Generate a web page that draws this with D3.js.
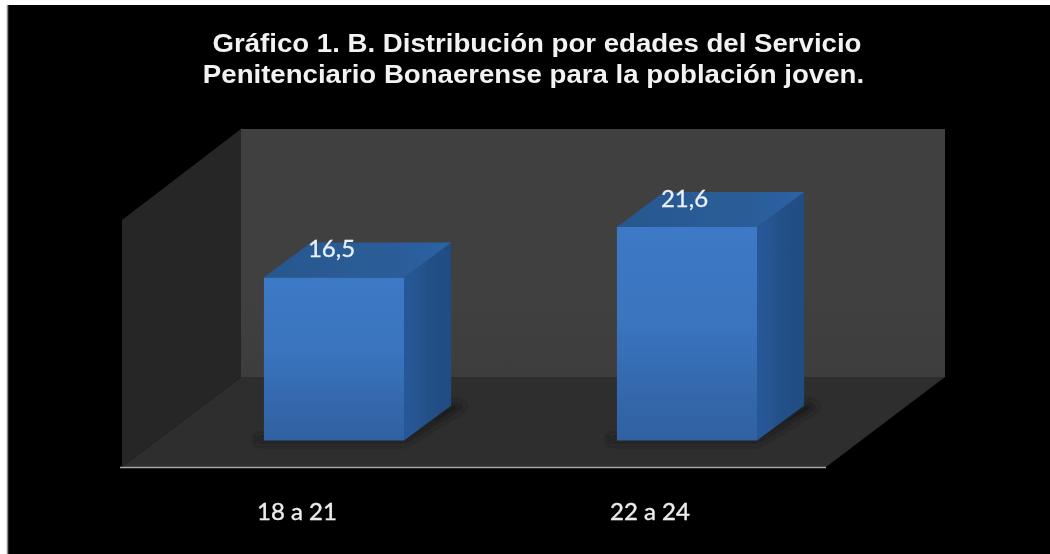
<!DOCTYPE html>
<html><head><meta charset="utf-8">
<script src="https://cdn.jsdelivr.net/npm/d3@7"></script>
<style>html,body{margin:0;padding:0;background:#fff}svg{display:block}</style></head>
<body><svg id="c" width="1050" height="554"></svg>
<script>
const categories = ["18 a 21", "22 a 24"];
const values = [16.5, 21.6];
const valueLabels = ["16,5", "21,6"];
const titleLines = ["Gráfico 1. B. Distribución por edades del Servicio", "Penitenciario Bonaerense para la población joven."];

const svg = d3.select("#c");
const defs = svg.append("defs");
function grad(id, dir, stops){
  const g = defs.append("linearGradient").attr("id", id)
    .attr("x1",0).attr("y1",0).attr("x2",dir==="h"?1:0).attr("y2",dir==="h"?0:1);
  stops.forEach(s=>g.append("stop").attr("offset",s[0]).attr("stop-color",s[1]));
}
grad("front","v",[[0,"#3c79c6"],[0.45,"#3a74bf"],[1,"#2f619f"]]);
grad("side","h",[[0,"#28599a"],[0.6,"#224f85"],[1,"#1f4d84"]]);
grad("topF","h",[[0,"#28588f"],[0.7,"#2a5c98"],[1,"#2c64a8"]]);
grad("wall","v",[[0,"#414141"],[1,"#3e3e3e"]]);
const blur = defs.append("filter").attr("id","soft").attr("x","-10%").attr("y","-10%").attr("width","120%").attr("height","120%");
blur.append("feGaussianBlur").attr("stdDeviation",0.5);
const sh = defs.append("filter").attr("id","shadow").attr("x","-20%").attr("y","-100%").attr("width","140%").attr("height","300%");
sh.append("feGaussianBlur").attr("stdDeviation",3.5);

// chart frame
svg.append("rect").attr("x",7).attr("y",5).attr("width",1043).attr("height",549).attr("fill","#000");
svg.append("line").attr("x1",7.5).attr("x2",7.5).attr("y1",5).attr("y2",554).attr("stroke","#8a8a8a").attr("stroke-width",1.5);

// scales
const x = d3.scaleBand().domain(categories).range([157.5,863.5]).paddingInner(0.603).paddingOuter(0.3015);
const y = d3.scaleLinear().domain([0,21.6]).range([440.5,227]);
const depth = {dx:47, dy:-35};
const pts = a => a.map(p=>p.join(",")).join(" ");

const root = svg.append("g").attr("filter","url(#soft)");

// 3D walls and floor
const wallBox = {x0:241,x1:945,y0:129,y1:377};
const shift = {dx:-119,dy:90};
root.append("polygon").attr("points",pts([[wallBox.x0+shift.dx,220],[wallBox.x0,wallBox.y0],[wallBox.x0,wallBox.y1],[wallBox.x0+shift.dx,wallBox.y1+shift.dy]])).attr("fill","#262626");
root.append("rect").attr("x",wallBox.x0).attr("y",wallBox.y0).attr("width",wallBox.x1-wallBox.x0).attr("height",wallBox.y1-wallBox.y0).attr("fill","url(#wall)");
root.append("polygon").attr("points",pts([[wallBox.x0,wallBox.y1],[wallBox.x1,wallBox.y1],[wallBox.x1+shift.dx,wallBox.y1+shift.dy],[wallBox.x0+shift.dx,wallBox.y1+shift.dy]])).attr("fill","#2e2e2e");
root.append("line").attr("x1",120).attr("x2",wallBox.x1+shift.dx).attr("y1",467.5).attr("y2",467.5).attr("stroke","#a6a6a6").attr("stroke-width",1.6);

// bars
const bars = root.selectAll("g.bar").data(categories.map((c,i)=>({c,v:values[i],l:valueLabels[i]}))).join("g").attr("class","bar");
bars.append("polygon").attr("filter","url(#shadow)").attr("fill","#1a1a1a").attr("points",d=>{
  const a=x(d.c), b=a+x.bandwidth(), base=y(0);
  return pts([[a-8,base+2],[b+2,base+2],[b+depth.dx+14,base+depth.dy+1],[b+depth.dx+4,base+depth.dy-4],[b,base-4],[a-8,base-4]]);
});
bars.append("rect").attr("x",d=>x(d.c)).attr("y",d=>y(d.v)).attr("width",x.bandwidth()).attr("height",d=>y(0)-y(d.v)).attr("fill","url(#front)");
bars.append("polygon").attr("fill","url(#side)").attr("points",d=>{
  const b=x(d.c)+x.bandwidth();
  return pts([[b,y(d.v)],[b+depth.dx,y(d.v)+depth.dy],[b+depth.dx,y(0)+depth.dy],[b,y(0)]]);
});
bars.append("polygon").attr("fill","url(#topF)").attr("points",d=>{
  const a=x(d.c), b=a+x.bandwidth(), t=y(d.v);
  return pts([[a,t],[b,t],[b+depth.dx,t+depth.dy],[a+depth.dx,t+depth.dy]]);
});

const text = svg.append("g").attr("filter","url(#soft)");

// value labels
text.append("g").selectAll("text").data(values).join("text")
  .attr("x",(d,i)=>x(categories[i])+x.bandwidth()/2-2.5)
  .attr("y",d=>y(d)-20)
  .attr("text-anchor","middle")
  .attr("font-family","Lato, 'Open Sans', sans-serif").attr("font-size",24)
  .attr("fill","#e8f0f8").attr("stroke","#e8f0f8").attr("stroke-width",0.3)
  .text((d,i)=>valueLabels[i]);

// category axis
const axis = text.append("g").attr("transform","translate(-37,503)")
  .call(d3.axisBottom(x).tickSize(0).tickPadding(0));
axis.select(".domain").remove();
axis.selectAll("text").attr("font-family","Lato, 'Open Sans', sans-serif").attr("font-size",24)
  .attr("fill","#ececec").attr("stroke","#ececec").attr("stroke-width",0.4);

// title (glyphs are slightly wide in the picture, so stretch them horizontally)
const stretch = 1.105;
text.append("g").attr("transform",`scale(${stretch},1)`).selectAll("text").data(titleLines).join("text")
  .attr("x",(d,i)=>(537-i*3.5)/stretch).attr("y",(d,i)=>52+i*31.5)
  .attr("text-anchor","middle")
  .attr("font-family","'Liberation Sans', Arial, sans-serif").attr("font-weight","bold").attr("font-size",25)
  .attr("fill","#f2f2f2")
  .text(d=>d);
</script></body></html>
